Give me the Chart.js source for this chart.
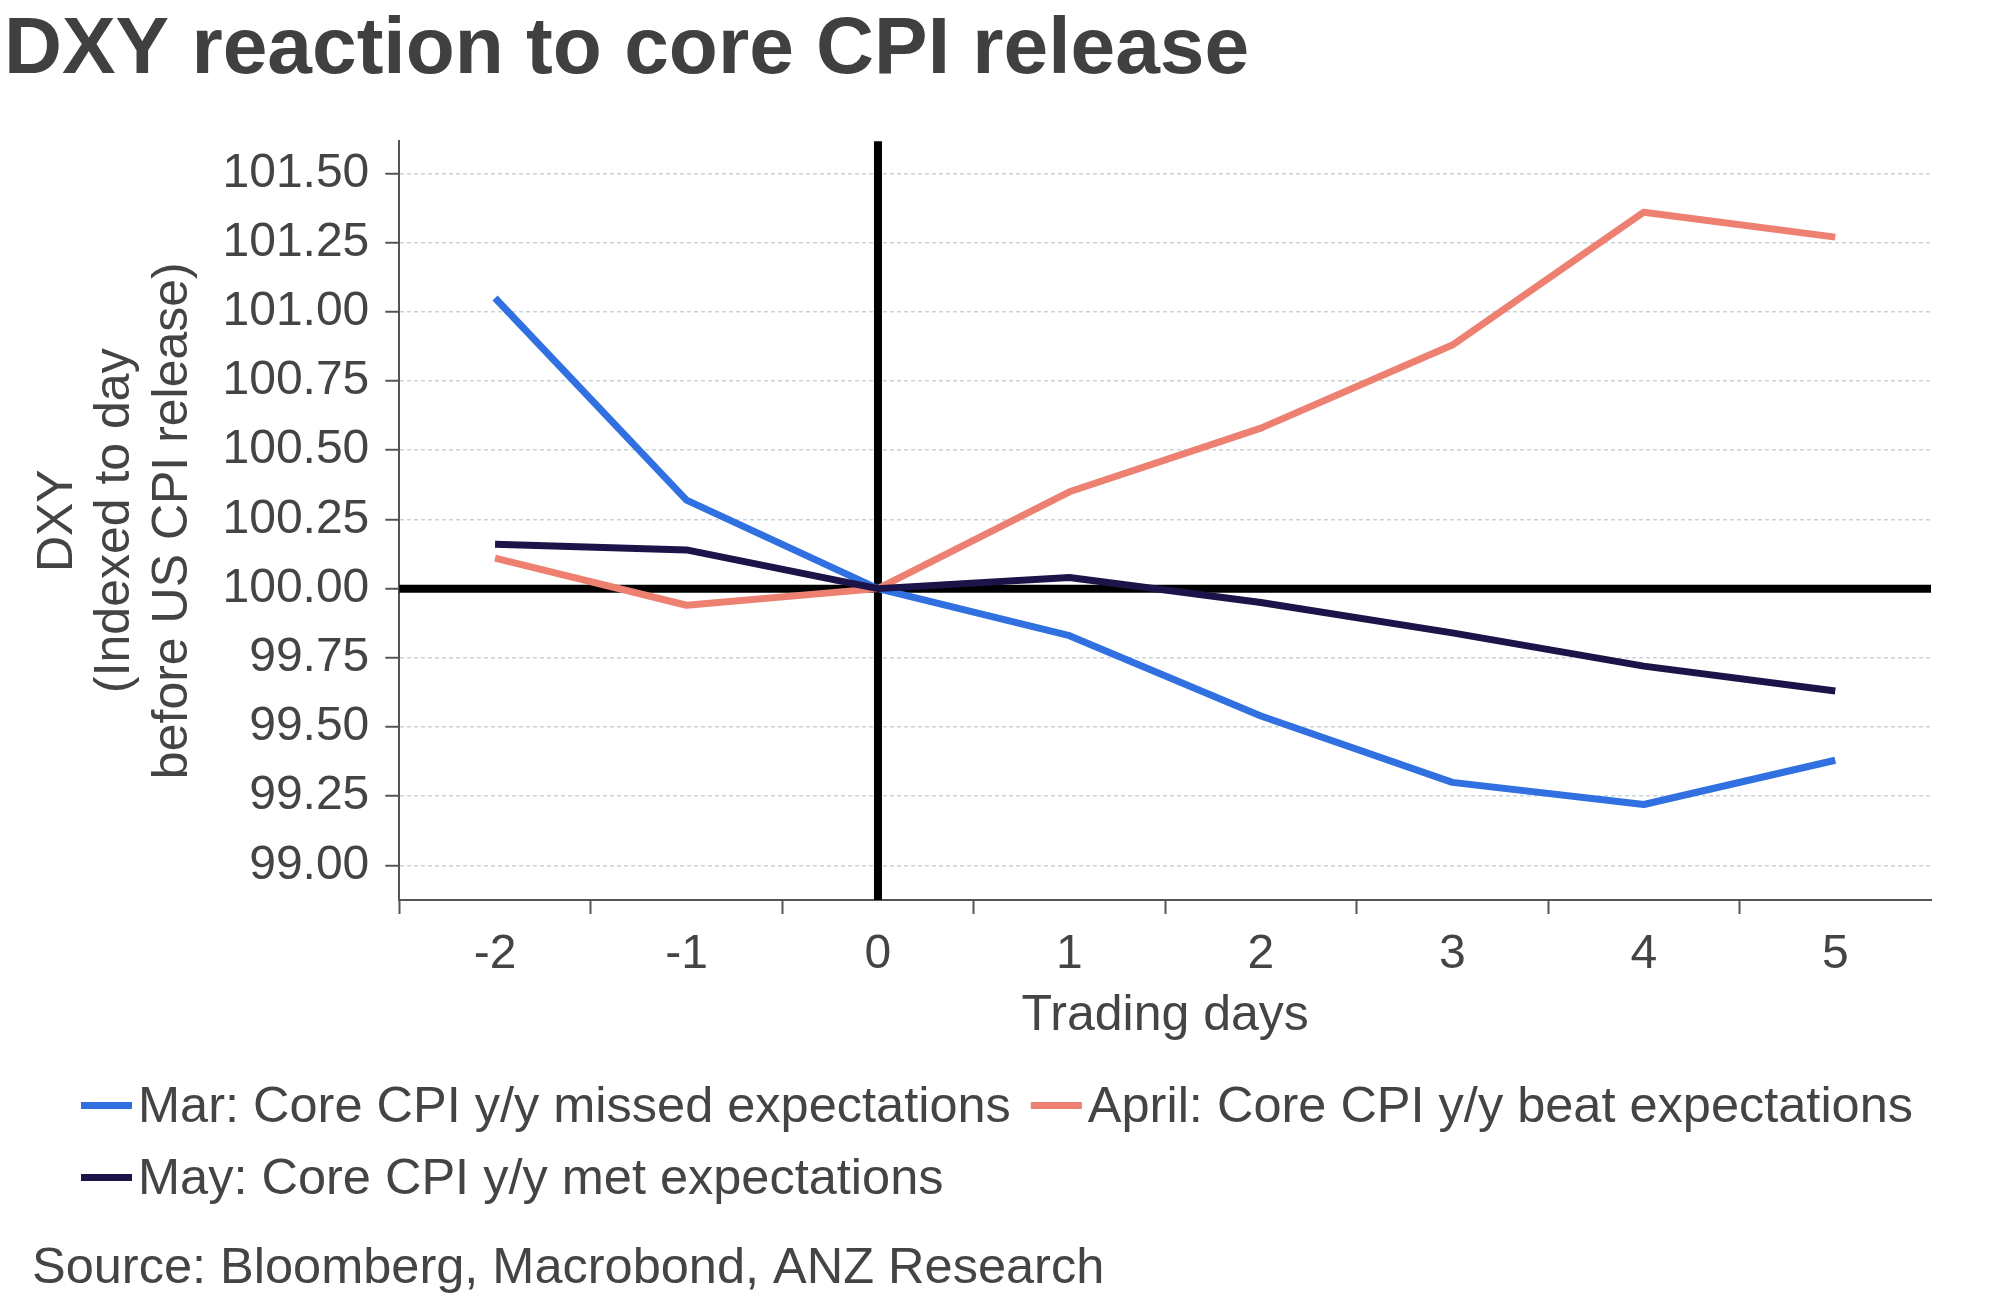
<!DOCTYPE html>
<html>
<head>
<meta charset="utf-8">
<title>DXY reaction to core CPI release</title>
<script src="https://cdn.jsdelivr.net/npm/chart.js@4.4.1/dist/chart.umd.min.js"></script>
<style>
    html, body { margin: 0; padding: 0; background: #fff; }
    #wrap { width: 2006px; height: 1304px; position: relative; }
</style>
</head>
<body>
<div id="wrap"><canvas id="dxyChart"></canvas></div>
<script>
// Data
const days = ['-2', '-1', '0', '1', '2', '3', '4', '5'];
const marValues = [101.05, 100.32, 100.00, 99.83, 99.54, 99.30, 99.22, 99.38];
const aprValues = [100.11, 99.94, 100.00, 100.35, 100.58, 100.88, 101.36, 101.27];
const mayValues = [100.16, 100.14, 100.00, 100.04, 99.95, 99.84, 99.72, 99.63];
const yTicks = [99.00, 99.25, 99.50, 99.75, 100.00, 100.25, 100.50, 100.75, 101.00, 101.25, 101.50];

const textColor = '#444444';
const axisColor = '#555555';
const gridColor = '#c9d4d9';
const fontFamily = '"Liberation Sans", Arial, sans-serif';

Chart.defaults.font.family = fontFamily;
Chart.defaults.color = textColor;

// Black reference lines at day 0 and index 100, drawn under the series
const zeroLines = {
    id: 'zeroLines',
    beforeDatasetsDraw(chart) {
        const { ctx, chartArea, scales } = chart;
        const y0 = scales.y.getPixelForValue(100);
        const x0 = scales.x.getPixelForValue(days.indexOf('0'));
        ctx.save();
        ctx.strokeStyle = '#000';
        ctx.lineWidth = 8;
        ctx.beginPath();
        ctx.moveTo(chartArea.left, y0);
        ctx.lineTo(chartArea.right, y0);
        ctx.moveTo(x0, chartArea.top);
        ctx.lineTo(x0, chartArea.bottom);
        ctx.stroke();
        ctx.restore();
    }
};

// Legend with short line swatches and the source note
const legendAndSource = {
    id: 'legendAndSource',
    afterDraw(chart) {
        const ctx = chart.ctx;
        ctx.save();
        ctx.font = '50.5px ' + fontFamily;
        ctx.textBaseline = 'alphabetic';
        const startX = 81;
        let x = startX;
        let y = 1122;
        chart.data.datasets.forEach(function(ds) {
            const w = 57 + ctx.measureText(ds.label).width;
            if (x > startX && x + w > chart.width - 10) {
                x = startX;
                y += 72;
            }
            ctx.fillStyle = ds.borderColor;
            ctx.fillRect(x, y - 20, 51, 7);
            ctx.fillStyle = textColor;
            ctx.fillText(ds.label, x + 57, y);
            x += w + 20;
        });
        ctx.fillStyle = textColor;
        ctx.fillText('Source: Bloomberg, Macrobond, ANZ Research', 32, 1283);
        ctx.restore();
    }
};

const ctx = document.getElementById('dxyChart').getContext('2d');

new Chart(ctx, {
    type: 'line',
    data: {
        labels: days,
        datasets: [{
            label: 'Mar: Core CPI y/y missed expectations',
            data: marValues,
            borderColor: '#3070e0',
            backgroundColor: '#3070e0',
            borderWidth: 7,
            order: 2
        }, {
            label: 'April: Core CPI y/y beat expectations',
            data: aprValues,
            borderColor: '#ee8072',
            backgroundColor: '#ee8072',
            borderWidth: 7,
            order: 1
        }, {
            label: 'May: Core CPI y/y met expectations',
            data: mayValues,
            borderColor: '#1c1448',
            backgroundColor: '#1c1448',
            borderWidth: 7,
            order: 0
        }]
    },
    options: {
        responsive: true,
        maintainAspectRatio: false,
        animation: false,
        events: [],
        layout: {
            padding: { left: 4, right: 75, top: 0, bottom: 263 }
        },
        elements: {
            point: { radius: 0 },
            line: { tension: 0, borderCapStyle: 'butt', borderJoinStyle: 'round' }
        },
        plugins: {
            legend: { display: false },
            tooltip: { enabled: false },
            title: {
                display: true,
                text: 'DXY reaction to core CPI release',
                align: 'start',
                color: '#404040',
                font: { size: 80.3, weight: 'bold', lineHeight: 1.2 },
                padding: { top: 3, bottom: 42 }
            }
        },
        scales: {
            x: {
                offset: true,
                grid: {
                    offset: true,
                    drawOnChartArea: false,
                    drawTicks: true,
                    tickLength: 14,
                    tickWidth: 2,
                    tickColor: function(c) {
                        return c.type === 'tick' ? axisColor : 'rgba(0,0,0,0)';
                    }
                },
                border: { display: true, color: axisColor, width: 2 },
                ticks: {
                    color: textColor,
                    font: { size: 48, lineHeight: 1.0 },
                    padding: 17,
                    maxRotation: 0,
                    autoSkip: false
                },
                title: {
                    display: true,
                    text: 'Trading days',
                    color: textColor,
                    font: { size: 50, lineHeight: 1.0 },
                    padding: { top: -5, bottom: 0 }
                }
            },
            y: {
                min: 98.875,
                max: 101.616,
                afterBuildTicks: function(scale) {
                    scale.ticks = yTicks.map(function(v) { return { value: v }; });
                },
                grid: {
                    color: gridColor,
                    lineWidth: 1.5,
                    drawTicks: true,
                    tickLength: 14,
                    tickWidth: 2,
                    tickColor: axisColor,
                    tickBorderDash: []
                },
                border: { display: true, color: axisColor, width: 2, dash: [4, 3] },
                ticks: {
                    color: textColor,
                    font: { size: 48 },
                    padding: 16,
                    callback: function(value) {
                        return Number(value).toFixed(2);
                    }
                },
                title: {
                    display: true,
                    text: ['DXY', '(Indexed to day', 'before US CPI release)'],
                    color: textColor,
                    font: { size: 50, lineHeight: 1.15 },
                    padding: { top: 25, bottom: 5 }
                }
            }
        }
    },
    plugins: [zeroLines, legendAndSource]
});
</script>
</body>
</html>
